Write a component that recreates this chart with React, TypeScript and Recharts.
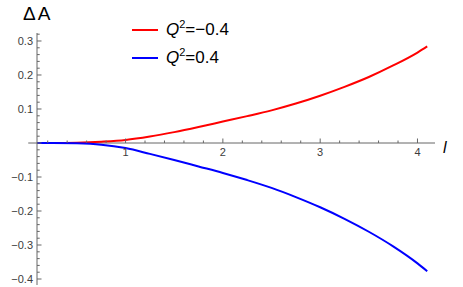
import {
  LineChart,
  Line,
  XAxis,
  YAxis,
  ReferenceLine,
  ReferenceDot,
  Legend,
} from "recharts";

// l values sampled along the curves
const lValues = [0.09, 0.25, 0.5, 0.75, 1, 1.25, 1.5, 1.75, 2, 2.25, 2.5, 2.75, 3, 3.25, 3.5, 3.75, 4, 4.1];
// Q^2 = -0.4 (red)
const qNegValues = [0, 0, 0.001, 0.004, 0.009, 0.019, 0.032, 0.047, 0.063, 0.079, 0.096, 0.116, 0.139, 0.165, 0.194, 0.228, 0.266, 0.284];
// Q^2 = 0.4 (blue)
const qPosValues = [0, 0, -0.001, -0.005, -0.015, -0.032, -0.05, -0.069, -0.088, -0.109, -0.132, -0.159, -0.189, -0.223, -0.261, -0.304, -0.354, -0.377];

const seriesQ2 = ["\u22120.4", "0.4"];
const seriesColors = ["#ff0000", "#0000ff"];

const yMajorTicks = [-0.4, -0.3, -0.2, -0.1, 0, 0.1, 0.2, 0.3];
const xMajorTicks = [1, 2, 3, 4];

const xDomain: [number, number] = [0.09, 4.18];
const yDomain: [number, number] = [-0.4176, 0.3235];

const font = "'Liberation Sans', Arial, sans-serif";
const axisColor = "#666";
const labelColor = "#3c3c3c";

const stepTicks = (from: number, to: number, step: number) => {
  const out: number[] = [];
  for (let v = from; v <= to + 1e-9; v += step) out.push(Math.round(v * 1000) / 1000);
  return out;
};

const yTicks = stepTicks(-0.4, 0.32, 0.02);
const xMinorTicks = stepTicks(0.2, 4.0, 0.2).filter((v) => !xMajorTicks.includes(v));

const chartData = lValues.map((l, i) => ({ l, neg: qNegValues[i], pos: qPosValues[i] }));

const fmt = (v: number) => (v < 0 ? "\u2212" + Math.abs(v) : String(v));

const YTick = (props: any) => {
  const { x, y, payload } = props;
  const v = payload.value;
  const major = yMajorTicks.some((m) => Math.abs(m - v) < 1e-6);
  return (
    <g>
      <line x1={x} x2={x + (major ? 4.5 : 2.7)} y1={y} y2={y} stroke={axisColor} strokeWidth={1} />
      {major && Math.abs(v) > 1e-6 && (
        <text x={x - 4} y={y} dy="0.36em" textAnchor="end" fontSize={11} fontFamily={font} fill={labelColor}>
          {fmt(v)}
        </text>
      )}
    </g>
  );
};

const xTick = (len: number, label?: string) => (p: any) => (
  <g>
    <line x1={p.cx} x2={p.cx} y1={p.cy} y2={p.cy - len} stroke={axisColor} strokeWidth={1} />
    {label && (
      <text x={p.cx} y={p.cy + 13} textAnchor="middle" fontSize={11} fontFamily={font} fill={labelColor}>
        {label}
      </text>
    )}
  </g>
);

const axisName = (p: any) => (
  <text x={p.cx + 8} y={p.cy + 10} fontSize={16} fontStyle="italic" fontFamily={font} fill="#000">
    l
  </text>
);

const renderLegend = (props: any) => {
  const entries = [...(props.payload || [])].sort(
    (a: any, b: any) => seriesQ2.indexOf(a.value) - seriesQ2.indexOf(b.value)
  );
  return (
    <div style={{ fontFamily: font, fontSize: 17, color: "#000" }}>
      {entries.map((entry: any) => (
        <div key={entry.value} style={{ display: "flex", alignItems: "center", height: 28 }}>
          <svg width={26} height={4} style={{ marginRight: 8 }}>
            <line x1={0} x2={26} y1={2} y2={2} stroke={entry.color} strokeWidth={2} />
          </svg>
          <span style={{ whiteSpace: "nowrap" }}>
            <i>Q</i>
            <span style={{ fontSize: 11, position: "relative", top: -7 }}>2</span>={entry.value}
          </span>
        </div>
      ))}
    </div>
  );
};

export default function App() {
  return (
    <div style={{ position: "absolute", left: 0, top: 0, width: 463, height: 287, background: "#fff" }}>
      <div
        style={{
          position: "absolute",
          left: 23,
          top: 4,
          fontFamily: font,
          fontSize: 19,
          lineHeight: "19px",
          letterSpacing: 2,
          color: "#000",
          zIndex: 1,
        }}
      >
        ΔA
      </div>
      <LineChart width={463} height={287} data={chartData} margin={{ top: 33, right: 28, bottom: 2, left: 0 }}>
        <XAxis dataKey="l" type="number" domain={xDomain} allowDataOverflow hide />
        <YAxis
          type="number"
          domain={yDomain}
          allowDataOverflow
          width={37}
          ticks={yTicks}
          interval={0}
          tickSize={0}
          tickMargin={0}
          tickLine={false}
          tick={<YTick />}
          axisLine={{ stroke: axisColor, strokeWidth: 1 }}
        />
        <ReferenceLine
          segment={[
            { x: 0, y: 0 },
            { x: xDomain[1], y: 0 },
          ]}
          ifOverflow="visible"
          stroke={axisColor}
          strokeWidth={1}
        />
        {xMinorTicks.map((v) => (
          <ReferenceDot key={`mn-${v}`} x={v} y={0} ifOverflow="visible" shape={xTick(2.5)} />
        ))}
        {xMajorTicks.map((v) => (
          <ReferenceDot key={`mj-${v}`} x={v} y={0} ifOverflow="visible" shape={xTick(4.5, String(v))} />
        ))}
        <ReferenceDot x={xDomain[1]} y={0} ifOverflow="visible" shape={axisName} />
        <Line
          type="monotone"
          dataKey="neg"
          name={seriesQ2[0]}
          stroke={seriesColors[0]}
          strokeWidth={2}
          dot={false}
          isAnimationActive={false}
        />
        <Line
          type="monotone"
          dataKey="pos"
          name={seriesQ2[1]}
          stroke={seriesColors[1]}
          strokeWidth={2}
          dot={false}
          isAnimationActive={false}
        />
        <Legend
          layout="vertical"
          align="center"
          verticalAlign="middle"
          wrapperStyle={{ left: 132, top: 16, width: "auto", height: "auto" }}
          content={renderLegend}
        />
      </LineChart>
    </div>
  );
}
